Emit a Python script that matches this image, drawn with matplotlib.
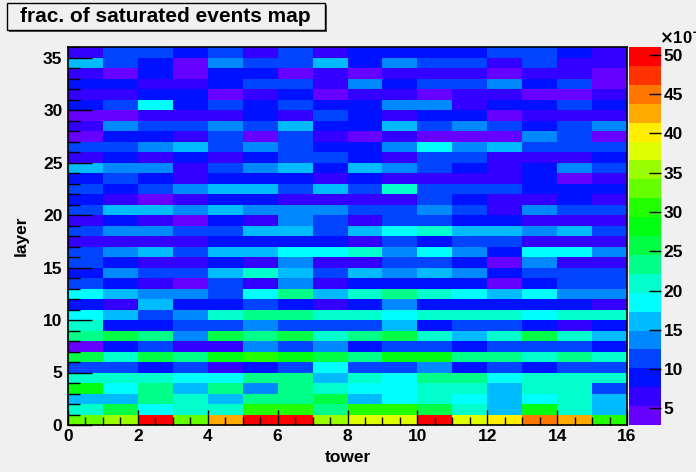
import numpy as np
import matplotlib
matplotlib.use("Agg")
import matplotlib.pyplot as plt
from matplotlib.colors import ListedColormap, BoundaryNorm
from matplotlib.patches import Rectangle
from matplotlib.ticker import MultipleLocator

# ---- data (fraction of saturated events, in units of 1e-3) ----
towers = np.arange(16)
layers = np.arange(36)
title = "frac. of saturated events map"
xlabel = "tower"
ylabel = "layer"
cbar_ticks = [5, 10, 15, 20, 25, 30, 35, 40, 45, 50]

frac_rows = [
    [33.0, 35.4, 49.9, 33.0, 42.6, 49.9, 49.9, 35.4, 37.8, 37.8, 49.9, 37.8, 40.2, 45.0, 42.6, 30.6],  # 0
    [21.0, 25.8, 18.5, 21.0, 21.0, 30.6, 30.6, 23.4, 30.6, 30.6, 25.8, 21.0, 16.1, 28.2, 21.0, 16.1],  # 1
    [16.1, 16.1, 23.4, 21.0, 16.1, 23.4, 23.4, 25.8, 16.1, 18.5, 21.0, 18.5, 16.1, 18.5, 21.0, 16.1],  # 2
    [28.2, 18.5, 23.4, 16.1, 23.4, 13.7, 23.4, 21.0, 18.5, 18.5, 21.0, 21.0, 16.1, 21.0, 21.0, 11.3],  # 3
    [21.0, 21.0, 21.0, 18.5, 18.5, 23.4, 23.4, 16.1, 21.0, 18.5, 23.4, 23.4, 18.5, 21.0, 21.0, 21.0],  # 4
    [11.3, 11.3, 8.9, 11.3, 6.5, 8.9, 11.3, 18.5, 11.3, 11.3, 13.7, 8.9, 11.3, 8.9, 11.3, 11.3],        # 5
    [25.8, 21.0, 25.8, 23.4, 28.2, 30.6, 28.2, 25.8, 23.4, 28.2, 28.2, 23.4, 23.4, 21.0, 23.4, 21.0],  # 6
    [4.1, 8.9, 11.3, 6.5, 6.5, 13.7, 11.3, 13.7, 8.9, 11.3, 11.3, 8.9, 11.3, 11.3, 11.3, 8.9],         # 7
    [23.4, 25.8, 23.4, 13.7, 25.8, 23.4, 25.8, 21.0, 23.4, 25.8, 21.0, 16.1, 21.0, 25.8, 21.0, 16.1],  # 8
    [21.0, 8.9, 8.9, 11.3, 11.3, 13.7, 11.3, 11.3, 11.3, 16.1, 8.9, 11.3, 11.3, 8.9, 6.5, 8.9],        # 9
    [18.5, 16.1, 11.3, 13.7, 21.0, 23.4, 23.4, 21.0, 21.0, 18.5, 21.0, 21.0, 21.0, 18.5, 21.0, 21.0],  # 10
    [8.9, 6.5, 16.1, 8.9, 8.9, 11.3, 8.9, 6.5, 8.9, 13.7, 8.9, 8.9, 8.9, 8.9, 8.9, 6.5],               # 11
    [18.5, 16.1, 13.7, 13.7, 11.3, 18.5, 23.4, 16.1, 21.0, 23.4, 21.0, 18.5, 16.1, 18.5, 13.7, 13.7],  # 12
    [11.3, 8.9, 6.5, 4.1, 11.3, 6.5, 13.7, 6.5, 8.9, 8.9, 8.9, 8.9, 4.1, 8.9, 11.3, 11.3],             # 13
    [8.9, 13.7, 11.3, 11.3, 16.1, 21.0, 16.1, 11.3, 16.1, 13.7, 16.1, 13.7, 8.9, 11.3, 11.3, 11.3],    # 14
    [11.3, 8.9, 6.5, 6.5, 8.9, 6.5, 13.7, 6.5, 6.5, 11.3, 11.3, 8.9, 4.1, 13.7, 6.5, 6.5],             # 15
    [11.3, 13.7, 16.1, 11.3, 16.1, 16.1, 18.5, 18.5, 21.0, 13.7, 18.5, 13.7, 8.9, 18.5, 18.5, 13.7],   # 16
    [6.5, 6.5, 6.5, 6.5, 8.9, 8.9, 8.9, 8.9, 6.5, 11.3, 8.9, 11.3, 11.3, 6.5, 6.5, 6.5],               # 17
    [11.3, 13.7, 13.7, 11.3, 11.3, 16.1, 16.1, 11.3, 16.1, 18.5, 21.0, 16.1, 16.1, 13.7, 16.1, 11.3],  # 18
    [6.5, 8.9, 6.5, 4.1, 8.9, 6.5, 13.7, 11.3, 6.5, 11.3, 11.3, 8.9, 8.9, 6.5, 6.5, 6.5],              # 19
    [11.3, 16.1, 16.1, 13.7, 16.1, 13.7, 13.7, 13.7, 11.3, 11.3, 13.7, 11.3, 6.5, 13.7, 11.3, 11.3],   # 20
    [8.9, 6.5, 4.1, 6.5, 8.9, 8.9, 6.5, 6.5, 6.5, 6.5, 11.3, 8.9, 6.5, 6.5, 8.9, 6.5],                 # 21
    [11.3, 8.9, 11.3, 13.7, 16.1, 16.1, 11.3, 16.1, 11.3, 21.0, 11.3, 11.3, 11.3, 8.9, 8.9, 8.9],      # 22
    [8.9, 11.3, 8.9, 6.5, 8.9, 8.9, 8.9, 6.5, 8.9, 6.5, 6.5, 6.5, 6.5, 8.9, 4.1, 6.5],                 # 23
    [16.1, 13.7, 13.7, 6.5, 11.3, 13.7, 16.1, 8.9, 16.1, 13.7, 11.3, 8.9, 6.5, 8.9, 13.7, 11.3],       # 24
    [6.5, 8.9, 6.5, 8.9, 6.5, 8.9, 11.3, 11.3, 8.9, 6.5, 11.3, 11.3, 6.5, 6.5, 6.5, 8.9],              # 25
    [11.3, 11.3, 13.7, 16.1, 11.3, 13.7, 11.3, 8.9, 8.9, 13.7, 18.5, 13.7, 16.1, 11.3, 11.3, 11.3],    # 26
    [4.1, 8.9, 8.9, 6.5, 11.3, 4.1, 11.3, 6.5, 4.1, 6.5, 4.1, 4.1, 4.1, 13.7, 11.3, 4.1],              # 27
    [6.5, 13.7, 11.3, 11.3, 13.7, 11.3, 16.1, 8.9, 8.9, 16.1, 11.3, 13.7, 11.3, 8.9, 11.3, 13.7],      # 28
    [4.1, 4.1, 6.5, 6.5, 6.5, 8.9, 6.5, 11.3, 8.9, 6.5, 8.9, 8.9, 4.1, 6.5, 6.5, 6.5],                 # 29
    [8.9, 11.3, 18.5, 8.9, 11.3, 8.9, 11.3, 8.9, 8.9, 13.7, 13.7, 6.5, 8.9, 8.9, 11.3, 8.9],           # 30
    [6.5, 6.5, 8.9, 8.9, 4.1, 6.5, 8.9, 4.1, 6.5, 6.5, 4.1, 6.5, 6.5, 4.1, 4.1, 6.5],                  # 31
    [8.9, 8.9, 6.5, 6.5, 8.9, 11.3, 11.3, 6.5, 13.7, 8.9, 11.3, 11.3, 13.7, 8.9, 11.3, 4.1],           # 32
    [6.5, 4.1, 8.9, 4.1, 8.9, 8.9, 4.1, 6.5, 4.1, 6.5, 6.5, 6.5, 4.1, 6.5, 6.5, 4.1],                  # 33
    [16.1, 11.3, 8.9, 4.1, 13.7, 11.3, 11.3, 16.1, 8.9, 13.7, 11.3, 11.3, 6.5, 11.3, 6.5, 6.5],        # 34
    [6.5, 11.3, 11.3, 8.9, 11.3, 6.5, 11.3, 6.5, 8.9, 8.9, 8.9, 8.9, 11.3, 11.3, 8.9, 6.5],            # 35
]

# ---- style ----
palette = ['#6600ff', '#3300ff', '#0011ff', '#0044ff', '#0088ff', '#00bbff',
           '#00ffff', '#00ffcc', '#00ff88', '#00ff44', '#00ff11', '#22ff00',
           '#66ff00', '#99ff00', '#ddff00', '#ffee00', '#ffaa00', '#ff7700',
           '#ff3300', '#ff0000']
zmin, zmax = 2.9, 51.0
levels = np.linspace(zmin, zmax, len(palette) + 1)
cmap = ListedColormap(palette)
norm = BoundaryNorm(levels, cmap.N)

bg = '#f0f0f0'
plt.rcParams['font.family'] = ['Liberation Sans', 'DejaVu Sans']
plt.rcParams['font.weight'] = 'bold'
FS = 12.5

W, H = 696, 472
fig = plt.figure(figsize=(W / 100, H / 100), dpi=100, facecolor=bg)

L, R, T, B = 68, 627, 47, 425
ax = fig.add_axes([L / W, 1 - B / H, (R - L) / W, (B - T) / H])
Z = np.array(frac_rows)
xe = np.append(towers, towers[-1] + 1)
ye = np.append(layers, layers[-1] + 1)
ax.pcolormesh(xe, ye, Z, cmap=cmap, norm=norm)
ax.set_xlim(0, 16)
ax.set_ylim(0, 36)
ax.xaxis.set_major_locator(MultipleLocator(2))
ax.xaxis.set_minor_locator(MultipleLocator(0.5))
ax.yaxis.set_major_locator(MultipleLocator(5))
ax.yaxis.set_minor_locator(MultipleLocator(1))
ax.tick_params(which='both', direction='in', top=False, right=False,
               labelsize=FS, width=1.0, color='black')
ax.tick_params(axis='x', which='major', length=11, pad=3)
ax.tick_params(axis='x', which='minor', length=5.5)
ax.tick_params(axis='y', which='major', length=17, pad=4)
ax.tick_params(axis='y', which='minor', length=8.5)
for lab in ax.get_xticklabels() + ax.get_yticklabels():
    lab.set_fontweight('bold')
for s in ax.spines.values():
    s.set_linewidth(1.2)
ax.set_xlabel(xlabel, fontsize=FS, fontweight='bold', labelpad=4)
ax.set_ylabel(ylabel, fontsize=FS, fontweight='bold', labelpad=10)

# colorbar
cax = fig.add_axes([629 / W, 1 - B / H, (661 - 629) / W, (B - T) / H])
cb = fig.colorbar(plt.cm.ScalarMappable(norm=norm, cmap=cmap), cax=cax,
                  ticks=cbar_ticks, spacing='proportional')
cb.outline.set_visible(False)
cax.tick_params(direction='in', length=9, width=1.0, labelsize=FS, pad=2,
                color='black')
cax.minorticks_off()
for lab in cax.get_yticklabels():
    lab.set_fontweight('bold')
fig.text(659 / W, 1 - 47 / H, r'$\times$10$^{-3}$', fontsize=12,
         fontweight='bold', ha='left', va='bottom')

# title box with shadow
fig.patches.append(Rectangle((9 / W, 1 - 32 / H), 318 / W, 27 / H,
                             transform=fig.transFigure, facecolor='#555555',
                             edgecolor='none', zorder=1))
fig.patches.append(Rectangle((7 / W, 1 - 30 / H), 318 / W, 27 / H,
                             transform=fig.transFigure, facecolor=bg,
                             edgecolor='black', linewidth=1.0, zorder=2))
fig.text(165 / W, 1 - 16.5 / H, title, fontsize=15, fontweight='bold',
         ha='center', va='center', zorder=3)

fig.savefig('out.png', dpi=100, facecolor=bg)
